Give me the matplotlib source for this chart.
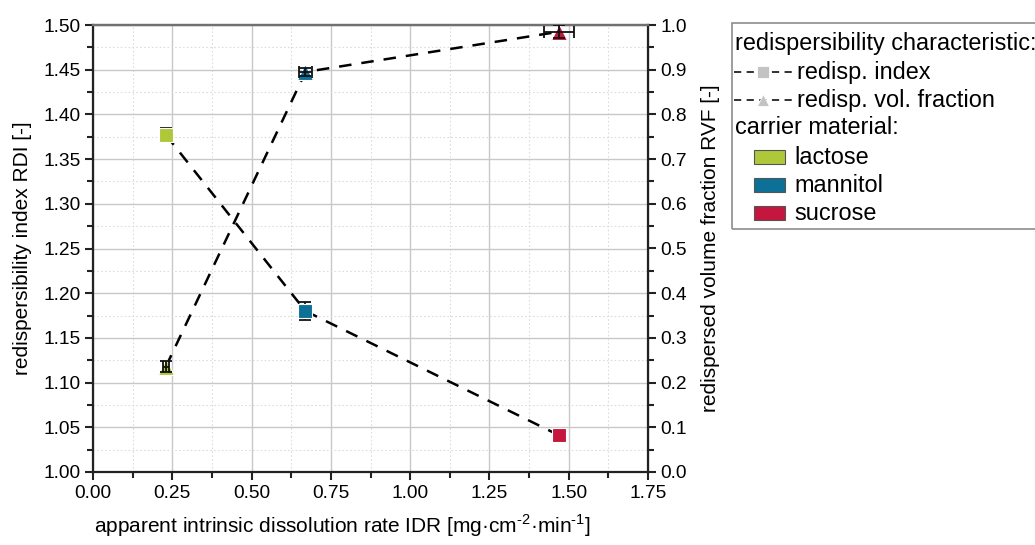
import matplotlib
matplotlib.use("Agg")
import matplotlib.pyplot as plt
from matplotlib.lines import Line2D
from matplotlib.patches import Rectangle
from matplotlib.ticker import MultipleLocator, FormatStrFormatter

plt.rcParams['font.family'] = ['Liberation Sans', 'DejaVu Sans']
plt.rcParams['mathtext.fontset'] = 'custom'
plt.rcParams['mathtext.rm'] = 'Liberation Sans'

# carrier materials and measured values
materials = ['lactose', 'mannitol', 'sucrose']
colors = ['#afc83a', '#0d7097', '#c5173d']
idr = [0.23, 0.67, 1.47]            # apparent intrinsic dissolution rate
idr_err = [0.01, 0.02, 0.048]
rdi = [1.377, 1.180, 1.041]         # redispersibility index
rdi_err = [0.008, 0.010, 0.007]
rvf = [0.236, 0.895, 0.985]         # redispersed volume fraction
rvf_err = [0.012, 0.008, 0.015]

fig = plt.figure(figsize=(10.35, 5.45), dpi=100)
W, H = 1035, 545
ax = fig.add_axes([93 / W, 1 - 472 / H, (648 - 93) / W, (472 - 25) / H])
ax2 = ax.twinx()

tick_fs = 13.8
label_fs = 15.0

# axes limits and ticks
ax.set_xlim(0, 1.75)
ax.set_ylim(1.0, 1.5)
ax2.set_ylim(0, 1.0)
ax.xaxis.set_major_locator(MultipleLocator(0.25))
ax.xaxis.set_minor_locator(MultipleLocator(0.125))
ax.yaxis.set_major_locator(MultipleLocator(0.05))
ax.yaxis.set_minor_locator(MultipleLocator(0.025))
ax2.yaxis.set_major_locator(MultipleLocator(0.1))
ax2.yaxis.set_minor_locator(MultipleLocator(0.05))
ax.xaxis.set_major_formatter(FormatStrFormatter('%.2f'))
ax.yaxis.set_major_formatter(FormatStrFormatter('%.2f'))
ax2.yaxis.set_major_formatter(FormatStrFormatter('%.1f'))

for a in (ax, ax2):
    a.tick_params(which='major', direction='out', length=6, width=1.5,
                  labelsize=tick_fs, color='#222222', pad=3)
    a.tick_params(which='minor', direction='out', length=4, width=1.5,
                  color='#222222')

ax.grid(which='major', color='#c8c8c8', lw=1.0, ls='-')
ax.grid(which='minor', color='#dcdcdc', lw=0.8, ls=(0, (1.5, 2)))
ax.set_axisbelow(True)

for s in ('left', 'bottom'):
    ax.spines[s].set_linewidth(1.6)
    ax.spines[s].set_color('#222222')
ax2.spines['right'].set_linewidth(1.6)
ax2.spines['right'].set_color('#222222')
for a in (ax, ax2):
    a.spines['top'].set_color('#707070')
    a.spines['top'].set_linewidth(1.6)
ax2.spines['left'].set_visible(False)
ax2.spines['bottom'].set_visible(False)

ax.set_xlabel(r'apparent intrinsic dissolution rate IDR [mg·cm$^{\text{-2}}$·min$^{\text{-1}}$]',
              fontsize=label_fs)
ax.xaxis.set_label_coords((342 - 93) / (648 - 93), -(526 - 472) / (472 - 25))
ax.xaxis.label.set_va('center')
ax.set_ylabel('redispersibility index RDI [-]', fontsize=label_fs, labelpad=8)
ax2.set_ylabel('redispersed volume fraction RVF [-]', fontsize=label_fs, labelpad=10)

# connecting dashed lines
ax.plot(idr, rdi, ls=(0, (5, 4)), color='black', lw=1.8, zorder=3)
ax2.plot(idr, rvf, ls=(0, (5, 4)), color='black', lw=1.8, zorder=3)

# markers with error bars
for x, xe, y1, e1, y2, e2, c in zip(idr, idr_err, rdi, rdi_err, rvf, rvf_err, colors):
    ax.errorbar(x, y1, yerr=e1, fmt='none', ecolor='#111111', elinewidth=1.3,
                capsize=4, capthick=1.3, zorder=4)
    ax.plot(x, y1, 's', ms=10, mfc=c, mec='white', mew=0.8, zorder=5)
    ax2.plot(x, y2, '^', ms=11, mfc=c, mec='white', mew=0.8, zorder=5)
    ax2.errorbar(x, y2, xerr=xe, yerr=e2, fmt='none', ecolor='#111111',
                 elinewidth=1.3, capsize=4, capthick=1.3, zorder=6)

# legend box drawn in figure pixel coordinates
def fx(px):
    return px / W

def fy(py):
    return 1 - py / H

leg_fs = 16.9
fig.add_artist(Rectangle((fx(732), fy(229)), fx(1040) - fx(732), fy(23) - fy(229),
                         transform=fig.transFigure, fill=False,
                         edgecolor='#8c8c8c', lw=1.2))

fig.text(fx(735), fy(43), 'redispersibility characteristic:', fontsize=leg_fs,
         va='center', ha='left')
fig.text(fx(735), fy(128), 'carrier material:', fontsize=leg_fs,
         va='center', ha='left')

gray = '#c3c3c3'
for yy, mk, txt in [(72, 's', 'redisp. index'), (100, '^', 'redisp. vol. fraction')]:
    fig.add_artist(Line2D([fx(734), fx(793)], [fy(yy), fy(yy)],
                          transform=fig.transFigure, color='#222222', lw=1.3,
                          ls=(0, (4, 3))))
    fig.add_artist(Line2D([fx(763)], [fy(yy)], transform=fig.transFigure,
                          marker=mk, ms=8, mfc=gray, mec='white', mew=0.6, ls='none'))
    fig.text(fx(797), fy(yy), txt, fontsize=leg_fs, va='center', ha='left')

for yy, name, c in zip([157, 185, 213], materials, colors):
    fig.add_artist(Rectangle((fx(754), fy(yy + 7)), fx(785) - fx(754), fy(yy - 7) - fy(yy + 7),
                             transform=fig.transFigure, facecolor=c,
                             edgecolor='#555555', lw=0.8))
    fig.text(fx(794), fy(yy), name, fontsize=leg_fs, va='center', ha='left')

fig.savefig('out.png', dpi=100)
